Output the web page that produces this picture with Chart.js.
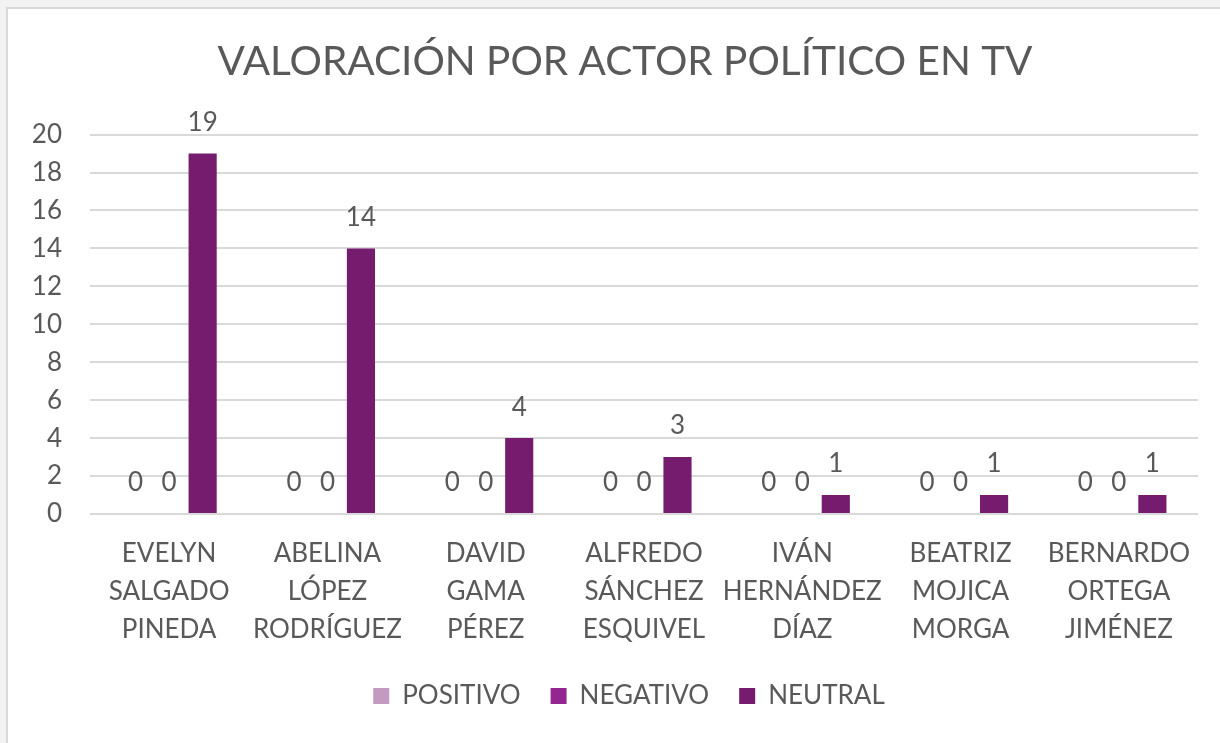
<!DOCTYPE html>
<html lang="es">
<head>
<meta charset="utf-8">
<title>Valoración por actor político en TV</title>
<script src="https://cdn.jsdelivr.net/npm/chart.js@4/dist/chart.umd.min.js"></script>
<style>
  html, body { margin: 0; padding: 0; width: 1220px; height: 743px; overflow: hidden; background: #f2f2f2; }
  .card { position: absolute; left: 6px; top: 7px; width: 1214px; height: 736px; background: #fff;
          border-top: 2px solid #d9d9d9; border-left: 2px solid #d9d9d9; box-sizing: border-box; }
  .wrap { position: absolute; left: 0; top: 0; width: 1212px; height: 734px; }
</style>
</head>
<body>
<div class="card">
  <div class="wrap"><canvas id="chart"></canvas></div>
</div>
<script>
// Datos
const categories = [
  ['EVELYN', 'SALGADO', 'PINEDA'],
  ['ABELINA', 'LÓPEZ', 'RODRÍGUEZ'],
  ['DAVID', 'GAMA', 'PÉREZ'],
  ['ALFREDO', 'SÁNCHEZ', 'ESQUIVEL'],
  ['IVÁN', 'HERNÁNDEZ', 'DÍAZ'],
  ['BEATRIZ', 'MOJICA', 'MORGA'],
  ['BERNARDO', 'ORTEGA', 'JIMÉNEZ']
];
const positivo = [0, 0, 0, 0, 0, 0, 0];
const negativo = [0, 0, 0, 0, 0, 0, 0];
const neutral = [19, 14, 4, 3, 1, 1, 1];
const yTicks = [0, 2, 4, 6, 8, 10, 12, 14, 16, 18, 20];

const textColor = '#595959';
const fontFamily = 'Lato, "Open Sans", sans-serif';

// Título y leyenda un poco a la derecha, como en el original
const nudge = {
  id: 'nudge',
  beforeDraw(chart) {
    if (chart.titleBlock && !chart.titleBlock._nudged) {
      chart.titleBlock.left += 22; chart.titleBlock.right += 22; chart.titleBlock._nudged = true;
    }
    if (chart.legend && !chart.legend._nudged) {
      chart.legend.left += 26; chart.legend.right += 26; chart.legend._nudged = true;
    }
  }
};

// Etiquetas de valor encima de cada barra
const valueLabels = {
  id: 'valueLabels',
  afterDatasetsDraw(chart) {
    const ctx = chart.ctx;
    ctx.save();
    ctx.fillStyle = textColor;
    ctx.font = '26px ' + fontFamily;
    ctx.textAlign = 'center';
    ctx.textBaseline = 'bottom';
    chart.data.datasets.forEach((ds, i) => {
      chart.getDatasetMeta(i).data.forEach((bar, j) => {
        ctx.fillText(String(ds.data[j]), bar.x, bar.y - 18);
      });
    });
    ctx.restore();
  }
};

new Chart(document.getElementById('chart'), {
  type: 'bar',
  data: {
    labels: categories,
    datasets: [
      { label: 'POSITIVO', data: positivo, backgroundColor: '#c39bc1' },
      { label: 'NEGATIVO', data: negativo, backgroundColor: '#93278f' },
      { label: 'NEUTRAL', data: neutral, backgroundColor: '#761c6f' }
    ]
  },
  plugins: [nudge, valueLabels],
  options: {
    responsive: true,
    maintainAspectRatio: false,
    animation: false,
    datasets: { bar: { categoryPercentage: 0.635, barPercentage: 0.84 } },
    layout: { padding: { left: 0, right: 22, top: 0, bottom: 24 } },
    plugins: {
      tooltip: { enabled: false },
      title: {
        display: true,
        text: 'VALORACIÓN POR ACTOR POLÍTICO EN TV',
        color: textColor,
        font: { family: fontFamily, size: 40.5, weight: 'normal', lineHeight: 1.2 },
        padding: { top: 29, bottom: 48 }
      },
      legend: {
        position: 'bottom',
        labels: {
          color: textColor,
          font: { family: fontFamily, size: 26 },
          boxWidth: 16,
          boxHeight: 16,
          padding: 30
        }
      }
    },
    scales: {
      x: {
        grid: { display: false },
        border: { display: false },
        ticks: {
          color: textColor,
          font: { family: fontFamily, size: 26, lineHeight: 1.46 },
          padding: 13,
          maxRotation: 0,
          autoSkip: false
        },
        afterFit(scale) { scale.height = 139; }
      },
      y: {
        min: 0,
        max: 20,
        grid: { color: '#d9d9d9', lineWidth: 2, drawTicks: false },
        border: { display: false },
        afterBuildTicks(scale) { scale.ticks = yTicks.map(v => ({ value: v })); },
        ticks: {
          color: textColor,
          font: { family: fontFamily, size: 26 },
          padding: 28
        },
        afterFit(scale) { scale.width = 82; }
      }
    }
  }
});
</script>
</body>
</html>
